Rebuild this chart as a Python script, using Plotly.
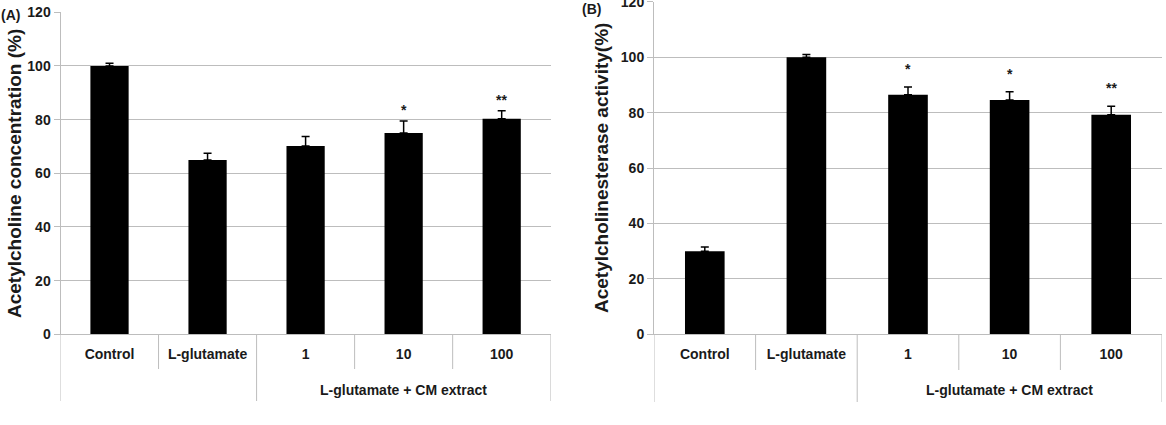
import plotly.graph_objects as go

categories = ["Control", "L-glutamate", "1", "10", "100"]
group_label = "L-glutamate + CM extract"

ach_values = [100, 65, 70.2, 75.0, 80.3]
ach_errors = [1.0, 2.5, 3.5, 4.5, 3.0]
ach_marks = ["", "", "", "*", "**"]

ache_values = [30, 100, 86.5, 84.6, 79.3]
ache_errors = [1.5, 1.0, 2.8, 3.0, 3.0]
ache_marks = ["", "", "*", "*", "**"]

y_ticks = [0, 20, 40, 60, 80, 100, 120]

FONT = "Liberation Sans"
GRID = "#bdbdbd"
TXT = "#1a1a1a"
W, H = 1166, 425


def fx(px):
    return px / W


def fy(py):
    return 1 - py / H


fig = go.Figure()

panels = [
    dict(vals=ach_values, errs=ach_errors, marks=ach_marks, xa="x", ya="y",
         xdom=[fx(60.5), fx(550.7)], ydom=[fy(334.3), fy(12.3)],
         star_shift=1, short_end=369, long_end=401,
         title="Acetylcholine concentration (%)", tx=14, ty=174,
         tag="(A)", tagx=10, tagy=15),
    dict(vals=ache_values, errs=ache_errors, marks=ache_marks, xa="x2", ya="y2",
         xdom=[fx(654), fx(1162)], ydom=[fy(334.3), fy(1.9)],
         star_shift=8, short_end=370, long_end=402,
         title="Acetylcholinesterase activity(%)", tx=601, ty=168,
         tag="(B)", tagx=591, tagy=9),
]

for p in panels:
    fig.add_trace(go.Bar(
        x=categories, y=p["vals"], xaxis=p["xa"], yaxis=p["ya"],
        marker=dict(color="black", line=dict(width=0)), width=0.39,
        error_y=dict(type="data", array=p["errs"], arrayminus=[0] * len(p["errs"]),
                     symmetric=False, color="black", thickness=1.5, width=4),
        showlegend=False, hoverinfo="skip"))

layout = dict(
    width=W, height=H, margin=dict(l=0, r=0, t=0, b=0, pad=0), autosize=False,
    plot_bgcolor="white", paper_bgcolor="white",
)

for i, p in enumerate(panels):
    sx = "" if i == 0 else "2"
    layout["xaxis" + sx] = dict(
        domain=p["xdom"], anchor="y" + sx, type="category", automargin=False,
        range=[-0.5, 4.5], showgrid=False, zeroline=False,
        showline=True, linecolor=GRID, linewidth=1, ticks="",
        tickfont=dict(family=FONT, size=14, color=TXT, weight="bold"),
        ticklabelstandoff=7, fixedrange=True)
    layout["yaxis" + sx] = dict(
        domain=p["ydom"], anchor="x" + sx, range=[0, 120], automargin=False,
        tickvals=y_ticks, showgrid=True, gridcolor=GRID, gridwidth=1,
        zeroline=False, showline=True, linecolor=GRID, linewidth=1,
        ticks="outside", ticklen=6, tickcolor=GRID, ticklabeloverflow="allow",
        tickfont=dict(family=FONT, size=14, color=TXT, weight="bold"),
        fixedrange=True)

fig.update_layout(**layout)

shapes = []
annotations = []
for i, p in enumerate(panels):
    sx = "" if i == 0 else "2"
    for b, end in [(-0.5, p["long_end"]), (0.5, p["short_end"]), (1.5, p["long_end"]),
                   (2.5, p["short_end"]), (3.5, p["short_end"]), (4.5, p["long_end"])]:
        shapes.append(dict(type="line", xref="x" + sx, yref="paper",
                           x0=b, x1=b, y0=p["ydom"][0], y1=fy(end),
                           line=dict(color=GRID, width=1)))
    for idx, (v, e, m) in enumerate(zip(p["vals"], p["errs"], p["marks"])):
        if m:
            annotations.append(dict(
                x=idx, y=v + e, xref="x" + sx, yref="y" + sx, text=m,
                showarrow=False, xanchor="center", yanchor="bottom",
                yshift=p["star_shift"],
                font=dict(family=FONT, size=14, color=TXT, weight="bold")))
    annotations.append(dict(
        x=3, y=fy(390), xref="x" + sx, yref="paper",
        text=group_label, showarrow=False,
        font=dict(family=FONT, size=14, color=TXT, weight="bold"),
        xanchor="center", yanchor="middle"))
    annotations.append(dict(
        x=fx(p["tx"]), y=fy(p["ty"]), xref="paper", yref="paper",
        text=p["title"], showarrow=False, textangle=-90,
        font=dict(family=FONT, size=19, color=TXT, weight="bold"),
        xanchor="center", yanchor="middle"))
    annotations.append(dict(
        x=fx(p["tagx"]), y=fy(p["tagy"]), xref="paper", yref="paper",
        text=p["tag"], showarrow=False,
        font=dict(family=FONT, size=14, color=TXT, weight="bold"),
        xanchor="center", yanchor="middle"))

fig.update_layout(shapes=shapes, annotations=annotations)

fig.write_html("out.html")
